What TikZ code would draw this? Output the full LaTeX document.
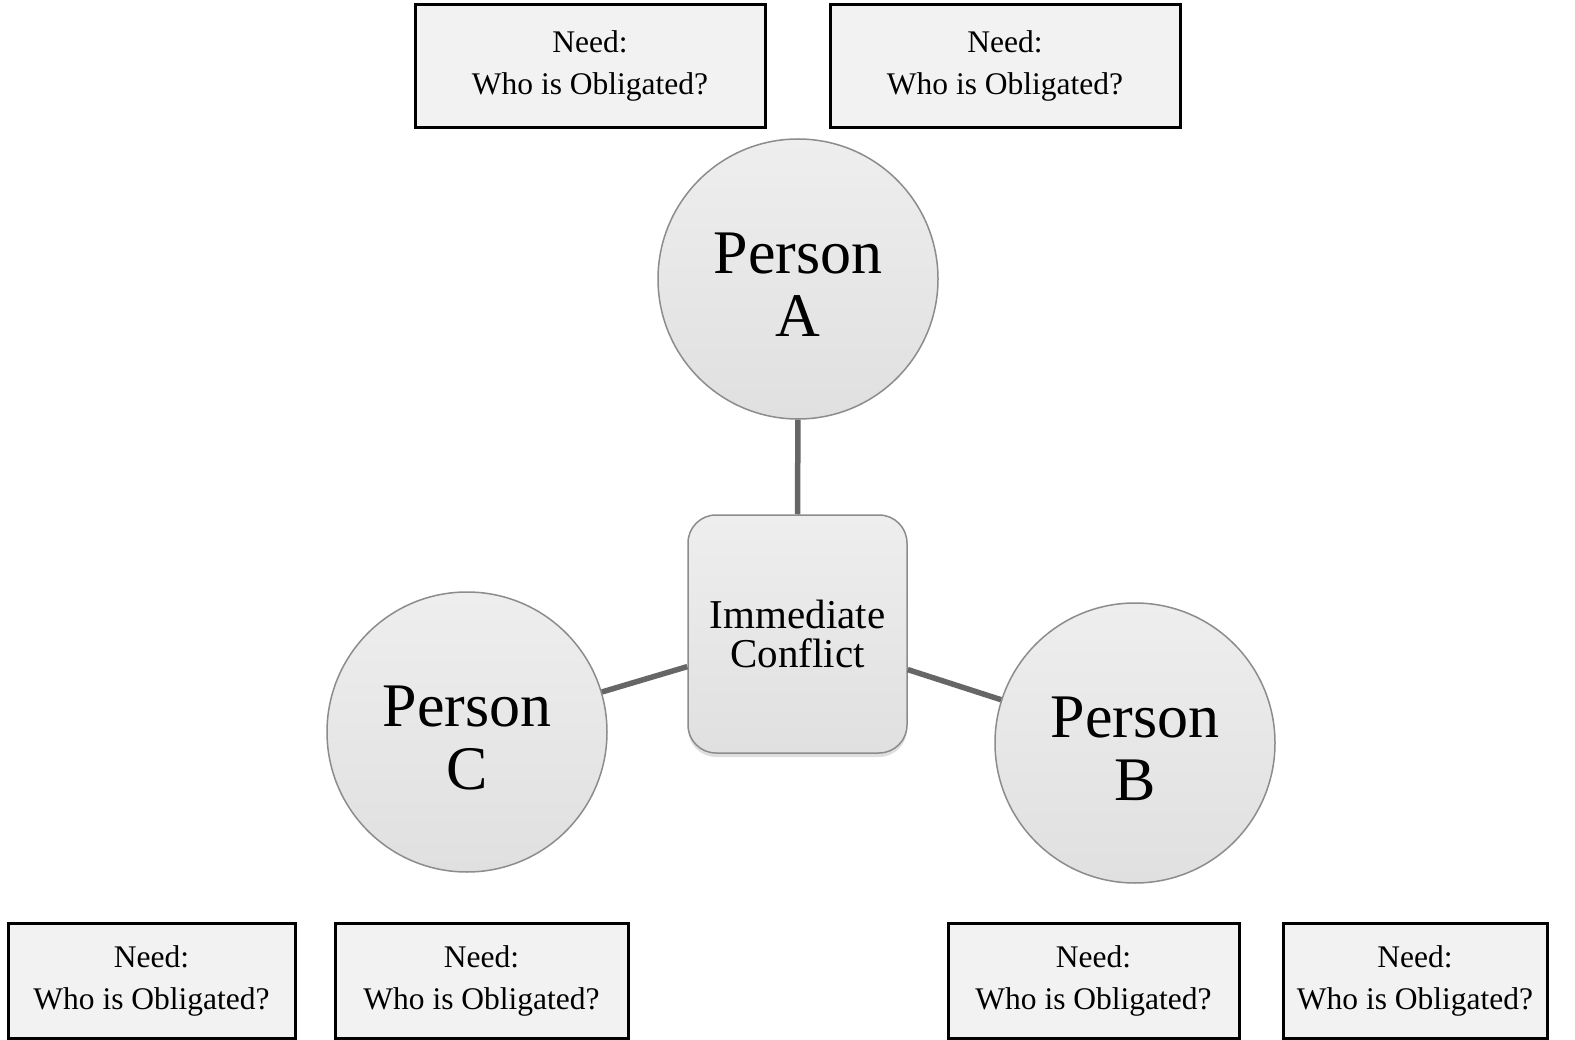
\documentclass[tikz,border=0pt]{standalone}
\usepackage{fontspec}
\setmainfont{Liberation Serif}
\usetikzlibrary{shadows}
\definecolor{boxfill}{HTML}{F2F2F2}
\definecolor{circtop}{HTML}{EEEEEE}
\definecolor{circbot}{HTML}{E0E0E0}
\definecolor{circline}{HTML}{8C8C8C}
\definecolor{connline}{HTML}{666666}
\newcommand\pertext[1]{\raisebox{-20pt}[0pt][0pt]{\begin{tabular}{@{}c@{}}Person\\#1\end{tabular}}}
\begin{document}
\begin{tikzpicture}[x=1pt,y=-1pt,
  needbox/.style={draw=black, line width=3pt, fill=boxfill, align=center,
    inner sep=0pt, font=\fontsize{31.5}{42}\selectfont},
  person/.style={circle, draw=circline, line width=1.5pt, top color=circtop,
    bottom color=circbot, minimum size=280pt, inner sep=0pt, align=center,
    font=\fontsize{62}{63}\selectfont},
  conflict/.style={rectangle, rounded corners=28pt, draw=circline, line width=1.5pt,
    top color=circtop, bottom color=circbot, minimum width=219pt, minimum height=238pt,
    inner sep=0pt, align=center, font=\fontsize{41}{39}\selectfont,
    drop shadow={shadow xshift=0pt, shadow yshift=-4pt, opacity=0.25}},
  conn/.style={draw=connline, line width=5.5pt}]
\useasboundingbox (0,0) rectangle (1575,1040);
\fill[white] (0,0) rectangle (1575,1040);

% need boxes
\node[needbox, minimum width=350pt, minimum height=123pt] (t1) at (590,66) {Need:\\Who is Obligated?};
\node[needbox, minimum width=350pt, minimum height=123pt] (t2) at (1005,66) {Need:\\Who is Obligated?};
\node[needbox, minimum width=287pt, minimum height=115pt] (b1) at (151.5,980.5) {Need:\\Who is Obligated?};
\node[needbox, minimum width=293pt, minimum height=115pt] (b2) at (481.5,980.5) {Need:\\Who is Obligated?};
\node[needbox, minimum width=291pt, minimum height=115pt] (b3) at (1093.5,980.5) {Need:\\Who is Obligated?};
\node[needbox, minimum width=264pt, minimum height=115pt] (b4) at (1415,980.5) {Need:\\Who is Obligated?};

% central
\node[conflict] (X) at (797.5,634) {Immediate\\Conflict};

% persons
\node[person] (A) at (798,279) {\pertext{A}};
\node[person] (C) at (467,732) {\pertext{C}};
\node[person] (B) at (1135,743) {\pertext{B}};

% connectors
\draw[conn] (A) -- (X);
\draw[conn] (C) -- (X);
\draw[conn] (B) -- (X);
\end{tikzpicture}
\end{document}
